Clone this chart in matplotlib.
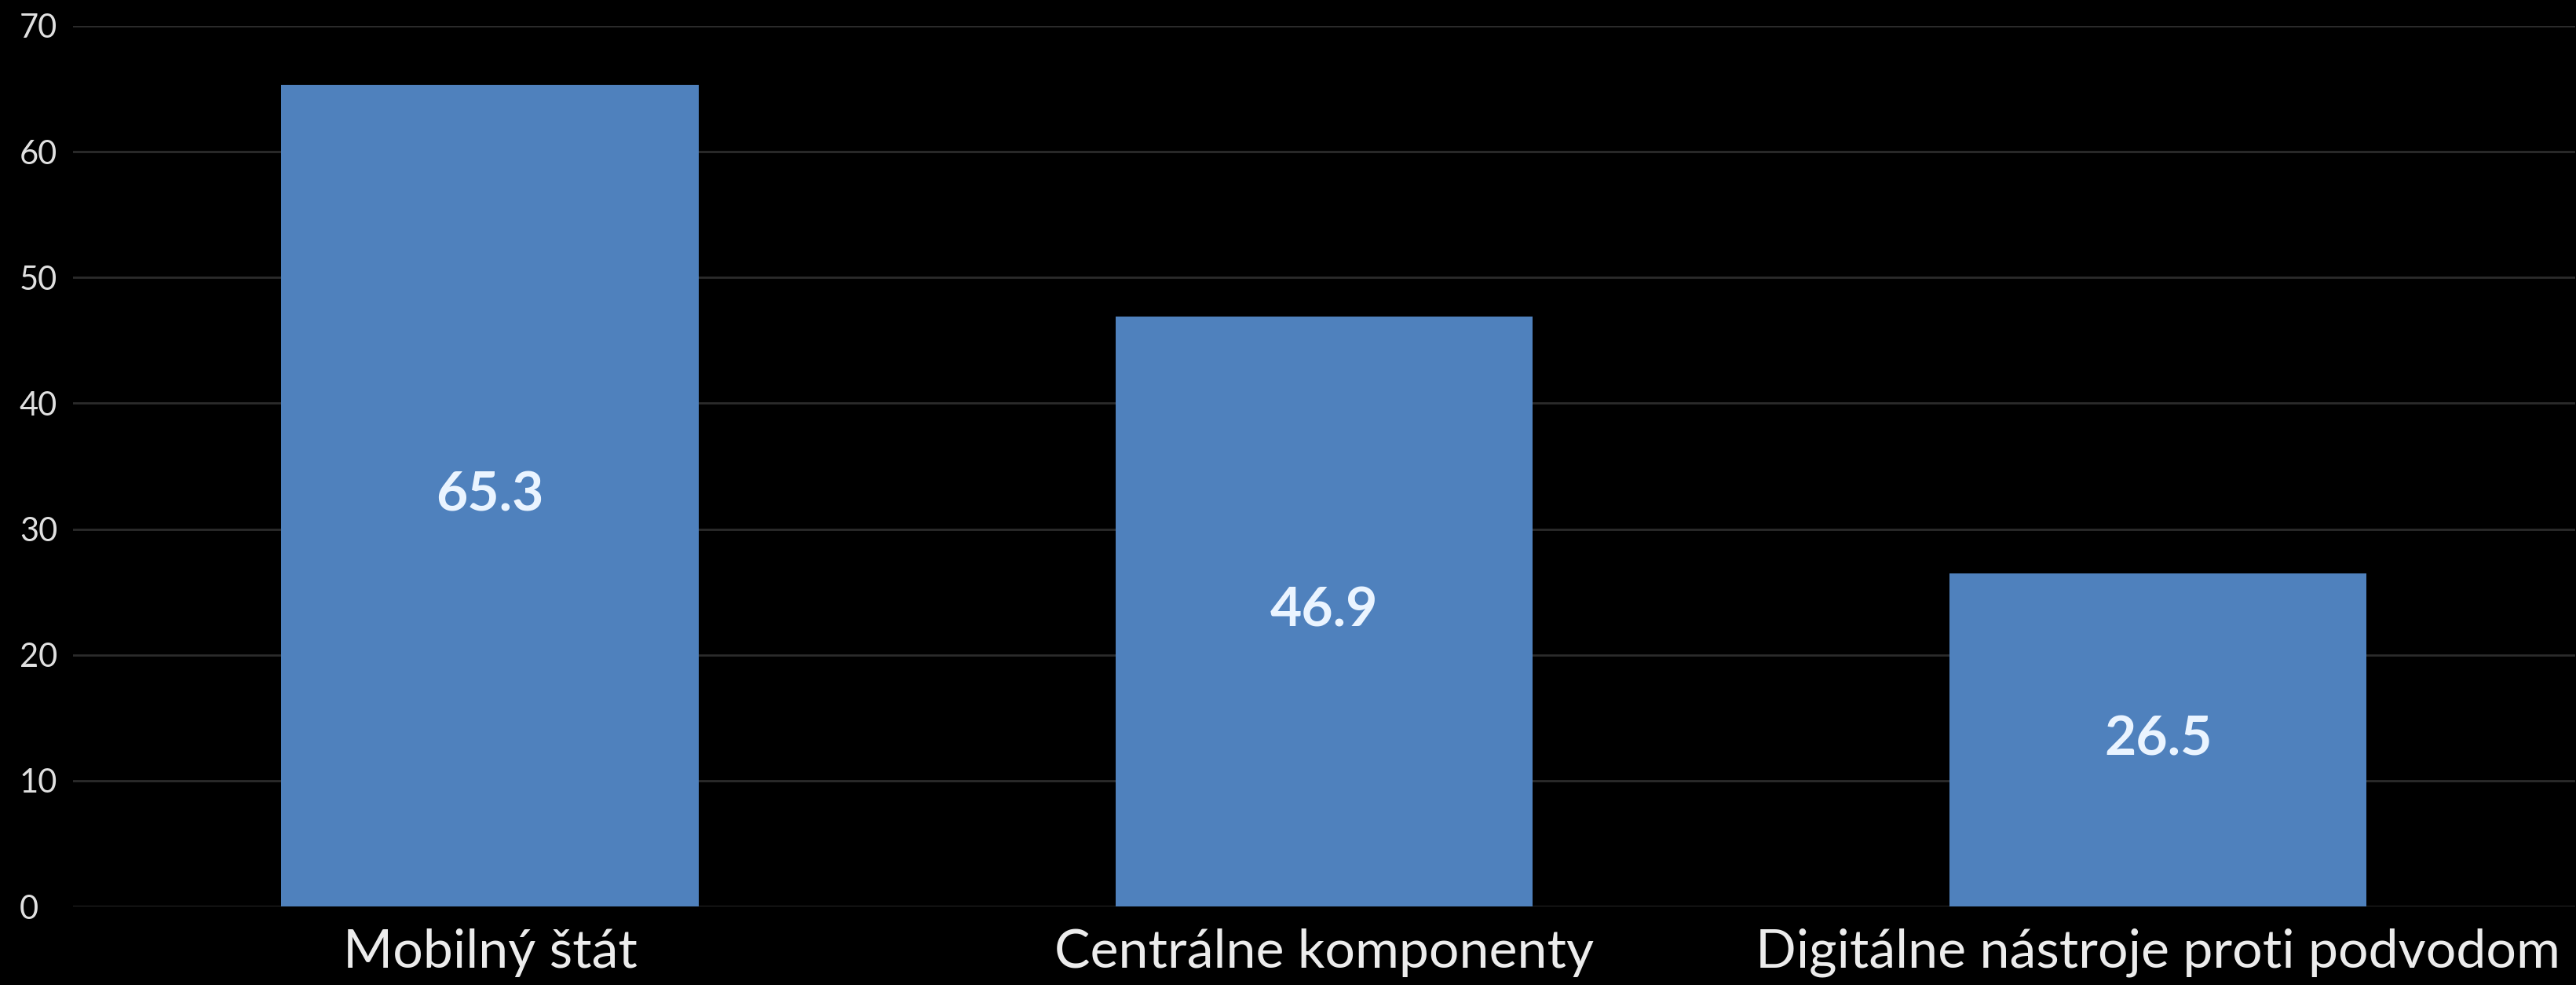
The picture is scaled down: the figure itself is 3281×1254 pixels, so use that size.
import matplotlib
matplotlib.use("Agg")
import matplotlib.pyplot as plt
import numpy as np

categories = ["Mobilný štát", "Centrálne komponenty", "Digitálne nástroje proti podvodom"]
values = [65.3, 46.9, 26.5]
y_ticks = [0, 10, 20, 30, 40, 50, 60, 70]

BAR = "#4f81bd"
BG = "black"

plt.rcParams["font.family"] = ["Lato", "DejaVu Sans"]

fig = plt.figure(figsize=(32.81, 12.54), dpi=100, facecolor=BG)
ax = fig.add_axes([0.0283, 0.0797, 0.9714, 0.894])
ax.set_facecolor(BG)

x = np.arange(len(categories))
bars = ax.bar(x, values, width=0.5, color=BAR, zorder=3)

# value labels sit in the middle of each bar
for b, v in zip(bars, values):
    ax.text(b.get_x() + b.get_width() / 2, v / 2, f"{v:.1f}",
            ha="center", va="center", color="#eaf4ff",
            fontsize=50, fontweight="bold", zorder=4)

ax.set_xlim(-0.5, 2.5)
ax.set_ylim(0, 70)
ax.set_yticks(y_ticks)
ax.set_yticklabels([str(t) for t in y_ticks])
ax.set_xticks(x)
ax.set_xticklabels(categories)

ax.grid(axis="y", color="#2b2b2b", linewidth=2, zorder=0)
for s in ax.spines.values():
    s.set_visible(False)

ax.tick_params(axis="y", length=0, pad=49, labelsize=30, labelcolor="#e0e0e0")
ax.tick_params(axis="x", length=0, pad=20, labelsize=49, labelcolor="#ececec")
for lbl in ax.get_yticklabels():
    lbl.set_horizontalalignment("left")

fig.savefig("out.png", dpi=100, facecolor=BG)
